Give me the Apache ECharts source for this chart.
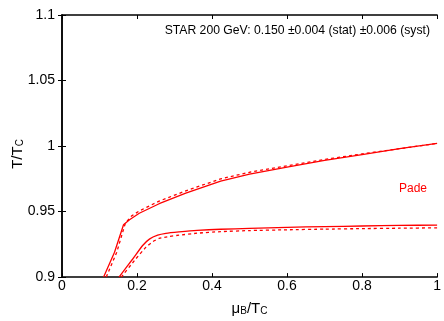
<!DOCTYPE html>
<html>
<head>
<meta charset="utf-8">
<script src="https://cdn.jsdelivr.net/npm/echarts@6/dist/echarts.min.js"></script>
<style>
  html, body { margin: 0; padding: 0; background: #fff; }
  #chart { width: 444px; height: 321px; }
</style>
</head>
<body>
<div id="chart"></div>
<script>
// Transition line T/Tc vs muB/Tc (Pade), solid and dashed variants
const upperSolidMu = [0.111, 0.140, 0.164, 0.180, 0.206, 0.259, 0.330, 0.423, 0.500, 0.600, 0.700, 0.800, 0.900, 1.000];
const upperSolidT  = [0.900, 0.919, 0.940, 0.9438, 0.9487, 0.956, 0.964, 0.9733, 0.9785, 0.984, 0.989, 0.9935, 0.998, 1.002];

const upperDashedMu = [0.118, 0.146, 0.169, 0.185, 0.206, 0.259, 0.330, 0.423, 0.500, 0.600, 0.700, 0.800, 0.900, 1.000];
const upperDashedT  = [0.900, 0.919, 0.9413, 0.9465, 0.9505, 0.958, 0.9658, 0.975, 0.980, 0.985, 0.9898, 0.994, 0.998, 1.002];

const lowerSolidMu = [0.152, 0.189, 0.215, 0.233, 0.255, 0.277, 0.312, 0.360, 0.423, 0.500, 0.600, 0.700, 0.800, 0.900, 1.000];
const lowerSolidT  = [0.900, 0.914, 0.9241, 0.929, 0.932, 0.9334, 0.9345, 0.9357, 0.9365, 0.9372, 0.938, 0.9385, 0.939, 0.9394, 0.9397];

const lowerDashedMu = [0.158, 0.197, 0.224, 0.242, 0.259, 0.286, 0.312, 0.360, 0.423, 0.500, 0.600, 0.700, 0.800, 0.900, 1.000];
const lowerDashedT  = [0.900, 0.914, 0.9229, 0.927, 0.9295, 0.931, 0.932, 0.9335, 0.9347, 0.9355, 0.9361, 0.9366, 0.937, 0.9373, 0.9376];

const xTickLabels = ['0', '0.2', '0.4', '0.6', '0.8', '1'];
const yTickLabels = ['0.9', '0.95', '1', '1.05', '1.1'];

const starText = 'STAR 200 GeV: 0.150 \u00b10.004 (stat) \u00b10.006 (syst)';
const curveLabel = 'Pade';

const FONT = 'Liberation Sans, Arial, Helvetica, sans-serif';
const RED = '#ff0000';

function pairs(xs, ys) { return xs.map((x, i) => [x, ys[i]]); }

const subRich = {
  m: { fontSize: 15, fontFamily: FONT, fill: '#000', color: '#000', lineHeight: 15, verticalAlign: 'top' },
  s: { fontSize: 10, fontFamily: FONT, fill: '#000', color: '#000', lineHeight: 10, padding: [8, 0, 0, 0], verticalAlign: 'bottom' }
};

const tickStyle = { show: true, inside: true, length: 4, lineStyle: { color: '#000', width: 1 } };
const lineStyleAxis = { show: true, lineStyle: { color: '#000', width: 1.5 } };

const chart = echarts.init(document.getElementById('chart'), null, { renderer: 'canvas' });

chart.setOption({
  animation: false,
  backgroundColor: '#fff',
  grid: { left: 62, right: 4, top: 15, bottom: 35, containLabel: false },
  xAxis: [
    {
      type: 'value', min: 0, max: 1, interval: 0.2, position: 'bottom',
      axisLine: lineStyleAxis, axisTick: tickStyle, splitLine: { show: false },
      axisLabel: {
        margin: 2, fontSize: 14, fontFamily: FONT, color: '#000',
        formatter: v => xTickLabels[Math.round(v / 0.2)]
      },
      name: '{m|\u03bc}{s|B}{m|/T}{s|C}', nameLocation: 'middle', nameGap: 19,
      nameTextStyle: { rich: subRich }
    },
    {
      type: 'value', min: 0, max: 1, interval: 0.2, position: 'top',
      axisLine: lineStyleAxis, axisTick: tickStyle, splitLine: { show: false },
      axisLabel: { show: false }
    }
  ],
  yAxis: [
    {
      type: 'value', min: 0.9, max: 1.1, interval: 0.05, position: 'left',
      axisLine: lineStyleAxis, axisTick: tickStyle, splitLine: { show: false },
      axisLabel: {
        margin: 7, fontSize: 14, fontFamily: FONT, color: '#000',
        formatter: v => yTickLabels[Math.round((v - 0.9) / 0.05)]
      }
    },
    {
      type: 'value', min: 0.9, max: 1.1, interval: 0.05, position: 'right',
      axisLine: lineStyleAxis, axisTick: tickStyle, splitLine: { show: false },
      axisLabel: { show: false }
    }
  ],
  series: [
    {
      name: 'upper solid', type: 'line', data: pairs(upperSolidMu, upperSolidT),
      showSymbol: false, clip: true, lineStyle: { color: RED, width: 1.3 }
    },
    {
      name: 'upper dashed', type: 'line', data: pairs(upperDashedMu, upperDashedT),
      showSymbol: false, clip: true, lineStyle: { color: RED, width: 1.3, type: [3, 3] }
    },
    {
      name: 'lower solid', type: 'line', data: pairs(lowerSolidMu, lowerSolidT),
      showSymbol: false, clip: true, smooth: 0.15, lineStyle: { color: RED, width: 1.3 }
    },
    {
      name: 'lower dashed', type: 'line', data: pairs(lowerDashedMu, lowerDashedT),
      showSymbol: false, clip: true, smooth: 0.15, lineStyle: { color: RED, width: 1.3, type: [3, 3] }
    }
  ],
  graphic: [
    {
      // vertical axis title T/Tc
      type: 'text', x: 18, y: 154, rotation: Math.PI / 2,
      style: { text: '{m|T/T}{s|C}', rich: subRich, align: 'center', verticalAlign: 'middle' }
    },
    {
      type: 'text', right: 14, top: 25,
      style: { text: starText, fontSize: 12.2, fontFamily: FONT, fill: '#000' }
    },
    {
      type: 'text', left: 399, top: 183,
      style: { text: curveLabel, fontSize: 12, fontFamily: FONT, fill: RED }
    }
  ]
});
</script>
</body>
</html>
